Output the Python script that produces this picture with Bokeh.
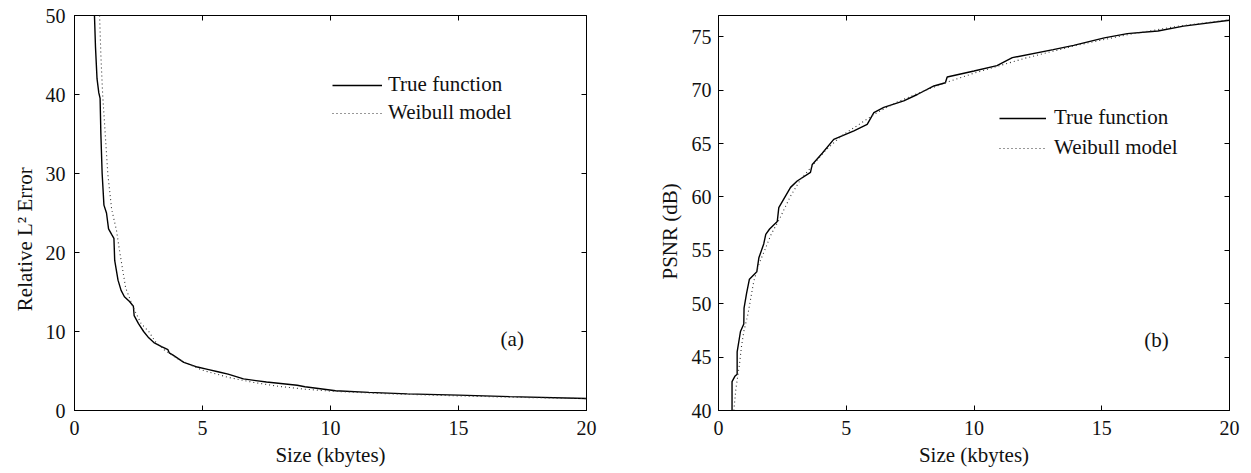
from bokeh.plotting import figure
from bokeh.models import (LinearAxis, FixedTicker, Legend, LegendItem, Label,
                          Range1d, CustomJSTickFormatter)
from bokeh.layouts import row
from bokeh.embed import file_html
from bokeh.resources import INLINE

FONT = "'Liberation Serif', 'Times New Roman', serif"
FS_TICK = "20px"
FS = "21px"
NBSP = "\u00a0"

# ---------------- data ----------------
x_ticks = [0, 5, 10, 15, 20]
a_yticks = [0, 10, 20, 30, 40, 50]
b_yticks = [40, 45, 50, 55, 60, 65, 70, 75]

# (a) relative L2 error
a_true_x = [0.78, 0.82, 0.88, 0.95, 1.0, 1.03, 1.08, 1.15, 1.25, 1.33, 1.45, 1.54, 1.57,
            1.7, 1.82, 1.95, 2.15, 2.3, 2.33, 2.5, 2.7, 2.9, 3.1, 3.4, 3.65, 3.7, 3.85,
            4.27, 4.8, 5.2, 5.6, 6.0, 6.6, 7.5, 8.7, 9.0, 9.6, 10.2, 11.5, 13.0, 15.0,
            17.0, 20.0]
a_true_y = [50, 46, 42, 40.2, 39.5, 35, 30, 26, 25, 23, 22.3, 21.8, 19,
            16.5, 15.2, 14.4, 13.8, 13.2, 12, 11, 10, 9.2, 8.6, 8.1, 7.7, 7.3, 7.0,
            6.1, 5.5, 5.2, 4.9, 4.6, 4.0, 3.6, 3.2, 3.0, 2.75, 2.5, 2.3, 2.1, 1.94,
            1.75, 1.52]
a_weib_x = [0.98, 1.03, 1.1, 1.2, 1.3, 1.45, 1.64, 1.77, 2.0, 2.3, 2.6, 2.9, 3.16, 3.5,
            4.0, 4.5, 5.0, 6.0, 7.0, 8.0, 9.0, 10.0, 12.0, 15.0, 17.5, 20.0]
a_weib_y = [50, 45, 40, 35, 30, 25.5, 22.8, 20, 15.5, 13.0, 11, 10, 8.7, 7.7,
            6.6, 5.8, 5.1, 4.2, 3.55, 3.05, 2.7, 2.45, 2.15, 1.85, 1.65, 1.5]

# (b) PSNR
b_true_x = [0.53, 0.53, 0.64, 0.73, 0.73, 0.86, 0.99, 1.0, 1.1, 1.21, 1.5, 1.58, 1.77,
            1.85, 2.0, 2.3, 2.36, 2.82, 3.08, 3.6, 3.67, 4.06, 4.51, 5.3, 5.82, 6.08,
            6.47, 7.25, 7.78, 8.43, 8.88, 8.95, 10.0, 10.9, 11.5, 13.1, 13.9, 15.1,
            16.0, 17.2, 18.2, 20.0]
b_true_y = [40, 42.7, 43.2, 43.4, 45.5, 47.4, 48.1, 49.6, 51, 52.3, 53.0, 54.3, 55.6,
            56.5, 57.0, 57.7, 59.0, 60.9, 61.5, 62.3, 63.05, 64.1, 65.4, 66.2, 66.8, 67.9,
            68.4, 69.0, 69.6, 70.4, 70.7, 71.24, 71.8, 72.3, 73.05, 73.8, 74.2, 74.9,
            75.3, 75.55, 76.0, 76.55]
b_weib_x = [0.6, 0.68, 0.77, 0.82, 0.9, 0.99, 1.15, 1.38, 1.58, 1.84, 2.06, 2.4, 2.8,
            3.2, 3.7, 4.2, 4.8, 5.5, 6.2, 7.0, 8.0, 9.0, 10.0, 11.0, 12.0, 13.0, 14.0,
            15.0, 16.0, 17.0, 18.0, 19.0, 20.0]
b_weib_y = [40, 42, 43.5, 44.3, 46, 47.4, 49, 52.1, 53.7, 55.2, 56.5, 58, 60,
            61.6, 63.0, 64.4, 65.7, 66.8, 67.9, 68.9, 69.9, 70.8, 71.6, 72.3, 73.0, 73.6, 74.2,
            74.7, 75.2, 75.6, 76.0, 76.3, 76.6]

series_names = ["True function", "Weibull model"]


def blank_axis(ticks):
    return LinearAxis(ticker=FixedTicker(ticks=ticks),
                      formatter=CustomJSTickFormatter(code="return ''"),
                      major_tick_in=5, major_tick_out=0, minor_tick_line_color=None,
                      axis_line_color=None, major_label_standoff=0,
                      major_tick_line_color="black")


def make(width, height, yr, yticks, ylabel, pad, tx, ty, wx, wy, tag, tagpos,
         mb_left, mb_right, leg_loc, leg_glyph_w, leg_spacing, leg_standoff, ystand,
         ylab_stand):
    p = figure(width=width, height=height, x_range=Range1d(0, 20), y_range=Range1d(*yr),
               output_backend="svg", toolbar_location=None,
               min_border_left=mb_left, min_border_right=mb_right,
               min_border_top=15, min_border_bottom=60)
    p.xgrid.visible = False
    p.ygrid.visible = False
    p.outline_line_color = "black"
    p.outline_line_width = 1
    p.background_fill_color = "white"
    p.border_fill_color = "white"

    for ax in (p.xaxis[0], p.yaxis[0]):
        ax.major_tick_in = 5
        ax.major_tick_out = 0
        ax.minor_tick_line_color = None
        ax.axis_line_color = "black"
        ax.major_tick_line_color = "black"
        ax.major_label_text_font = FONT
        ax.major_label_text_font_size = FS_TICK
        ax.major_label_text_color = "#111111"
        ax.axis_label_text_font = FONT
        ax.axis_label_text_font_size = FS
        ax.axis_label_text_font_style = "normal"
        ax.axis_label_text_color = "#111111"
    p.xaxis.ticker = FixedTicker(ticks=x_ticks)
    p.yaxis.ticker = FixedTicker(ticks=yticks)
    p.xaxis.axis_label = "Size (kbytes)"
    # trailing no-break spaces push the visible title below the frame centre, as in the original
    p.yaxis.axis_label = ylabel + NBSP * pad
    p.xaxis.major_label_standoff = 10
    p.xaxis.axis_label_standoff = 5
    p.yaxis.major_label_standoff = ystand
    p.yaxis.axis_label_standoff = ylab_stand

    p.add_layout(blank_axis(x_ticks), "above")
    p.add_layout(blank_axis(yticks), "right")

    r1 = p.line(tx, ty, line_color="black", line_width=1.4)
    r2 = p.line(wx, wy, line_color="#333333", line_width=1.1, line_dash="1 3")

    leg = Legend(items=[LegendItem(label=series_names[0], renderers=[r1]),
                        LegendItem(label=series_names[1], renderers=[r2])],
                 location=leg_loc, orientation="vertical",
                 glyph_width=leg_glyph_w, glyph_height=20, label_height=20,
                 label_standoff=leg_standoff, spacing=leg_spacing, padding=0, margin=0,
                 border_line_color=None, background_fill_alpha=0,
                 label_text_font=FONT, label_text_font_size=FS,
                 label_text_color="#111111")
    p.add_layout(leg)

    p.add_layout(Label(x=tagpos[0], y=tagpos[1], text=tag, text_font=FONT,
                       text_font_size=FS, text_align="center", text_baseline="middle",
                       text_color="#111111"))
    return p


pa = make(640, 470, (0, 50), a_yticks, "Relative L\u00b2 Error", 10,
          a_true_x, a_true_y, a_weib_x, a_weib_y, "(a)", (17.1, 9.0),
          74, 54, (258, 285), 50, 3, 6, 9, 6)
pb = make(609, 470, (40, 77), b_yticks, "PSNR (dB)", 7,
          b_true_x, b_true_y, b_weib_x, b_weib_y, "(b)", (17.14, 46.57),
          78, 20, (281, 250), 47, 5, 8, 7, 7)

layout = row(pa, pb)
open("out.html", "w").write(file_html(layout, INLINE))
